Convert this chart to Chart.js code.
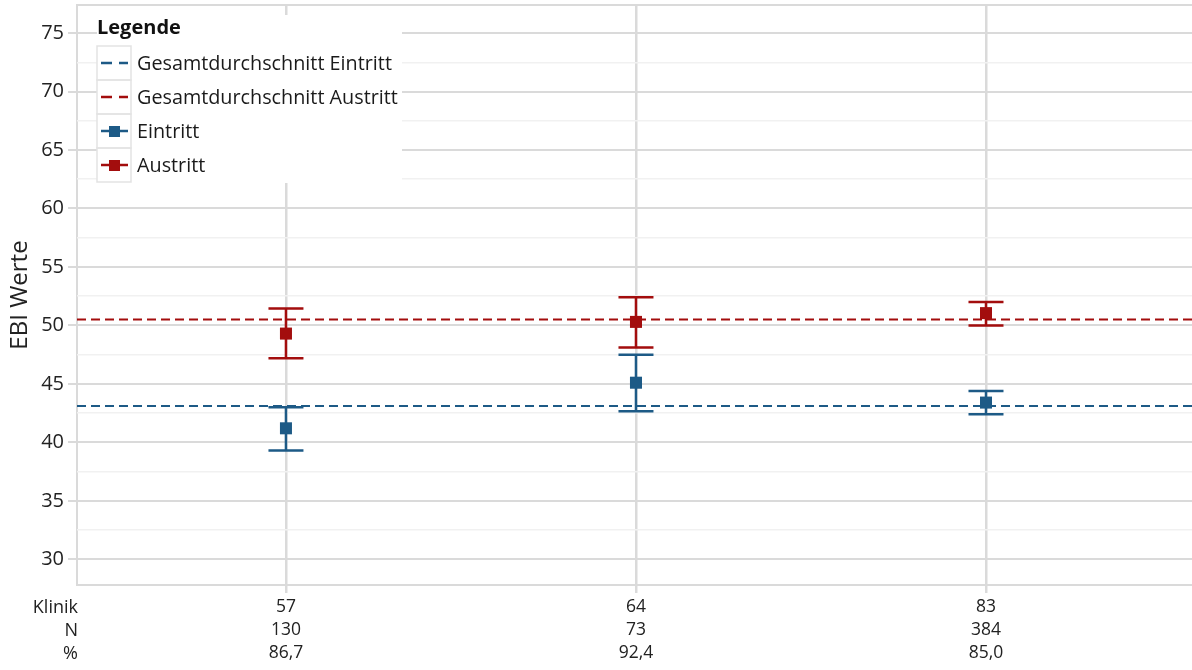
<!DOCTYPE html>
<html lang="de">
<head>
<meta charset="utf-8">
<title>EBI Werte je Klinik</title>
<script src="https://cdn.jsdelivr.net/npm/chart.js@4.4.1/dist/chart.umd.min.js"></script>
<style>
  html, body { margin: 0; padding: 0; background: #ffffff; overflow: hidden; }
  #wrap { width: 1192px; height: 670px; overflow: hidden; }
  canvas { display: block; }
</style>
</head>
<body>
<div id="wrap"><canvas id="chart" width="1200" height="670"></canvas></div>
<script>
// Kliniken mit Fallzahl und Anteil
const kliniken = ['57', '64', '83'];
const fallzahlN = ['130', '73', '384'];
const anteilProzent = ['86,7', '92,4', '85,0'];

// EBI-Mittelwerte mit Konfidenzintervall
const eintrittMittel = [41.2, 45.1, 43.4];
const eintrittUnten  = [39.3, 42.65, 42.4];
const eintrittOben   = [43.0, 47.5, 44.4];
const austrittMittel = [49.3, 50.3, 51.05];
const austrittUnten  = [47.2, 48.1, 50.0];
const austrittOben   = [51.45, 52.4, 52.0];

// Gesamtdurchschnitt über alle Kliniken
const gesamtEintritt = 43.1;
const gesamtAustritt = 50.5;

// Achsenbeschriftung
const zeilenTitel = ['Klinik', 'N', '%'];
const yTickWerte = [30, 32.5, 35, 37.5, 40, 42.5, 45, 47.5, 50, 52.5, 55, 57.5, 60, 62.5, 65, 67.5, 70, 72.5, 75];
const legendeTitel = 'Legende';

const BLAU = '#1d5a86';
const ROT = '#a30d0d';
const GRID = '#dadada';
const GRID_FEIN = '#f1f1f1';
const FONT = "'Open Sans', 'Noto Sans', sans-serif";
const X_MIN = -0.597, X_MAX = 2.6;
const X_LINE_H = 23, X_TICK_LEN = 8, X_TICK_PAD = 3;

const punkte = (werte) => werte.map((v, i) => ({ x: i, y: v }));

// Fehlerbalken (Konfidenzintervalle) über die Skalen zeichnen
const fehlerbalken = {
  id: 'fehlerbalken',
  beforeDatasetsDraw(chart) {
    const { ctx, scales: { x, y } } = chart;
    const reihen = [
      { unten: austrittUnten, oben: austrittOben, farbe: ROT },
      { unten: eintrittUnten, oben: eintrittOben, farbe: BLAU }
    ];
    ctx.save();
    ctx.lineWidth = 2.5;
    for (const r of reihen) {
      ctx.strokeStyle = r.farbe;
      r.unten.forEach((u, i) => {
        const px = x.getPixelForValue(i);
        const pu = y.getPixelForValue(u);
        const po = y.getPixelForValue(r.oben[i]);
        ctx.beginPath();
        ctx.moveTo(px, pu); ctx.lineTo(px, po);
        ctx.moveTo(px - 17.5, pu); ctx.lineTo(px + 17.5, pu);
        ctx.moveTo(px - 17.5, po); ctx.lineTo(px + 17.5, po);
        ctx.stroke();
      });
    }
    ctx.restore();
  }
};

// Rahmen des Plotbereichs und Zeilentitel unter der x-Achse
const rahmen = {
  id: 'rahmen',
  beforeDraw(chart) {
    const { ctx, chartArea: a, scales: { x } } = chart;
    ctx.save();
    ctx.strokeStyle = GRID;
    ctx.lineWidth = 2;
    ctx.beginPath();
    ctx.moveTo(a.right + 12, a.top); ctx.lineTo(a.left, a.top);
    ctx.lineTo(a.left, a.bottom); ctx.lineTo(a.right + 12, a.bottom);
    ctx.stroke();
    ctx.fillStyle = '#222';
    ctx.font = '18px ' + FONT;
    ctx.textAlign = 'right';
    ctx.textBaseline = 'middle';
    zeilenTitel.forEach((t, i) => {
      ctx.fillText(t, a.left + 1, x.top + X_TICK_LEN + X_TICK_PAD + X_LINE_H * (i + 0.5));
    });
    ctx.restore();
  }
};

// Legende oben links im Plotbereich
const legende = {
  id: 'legende',
  afterDraw(chart) {
    const { ctx } = chart;
    const eintraege = [
      { text: chart.data.datasets[2].label, farbe: BLAU, gestrichelt: true },
      { text: chart.data.datasets[3].label, farbe: ROT, gestrichelt: true },
      { text: chart.data.datasets[0].label, farbe: BLAU, gestrichelt: false },
      { text: chart.data.datasets[1].label, farbe: ROT, gestrichelt: false }
    ];
    const x0 = 97, y0 = 15, breite = 305, hoehe = 168;
    const zelleX = 97, zelleB = 34, zelleY = 46, zelleH = 34;
    ctx.save();
    ctx.fillStyle = '#ffffff';
    ctx.fillRect(x0, y0, breite, hoehe);
    ctx.fillStyle = '#111';
    ctx.font = 'bold 20px ' + FONT;
    ctx.textAlign = 'left';
    ctx.textBaseline = 'middle';
    ctx.fillText(legendeTitel, 97, 28);
    eintraege.forEach((e, i) => {
      const top = zelleY + i * zelleH;
      const cy = top + zelleH / 2;
      ctx.strokeStyle = '#e3e3e3';
      ctx.lineWidth = 1.5;
      ctx.strokeRect(zelleX, top, zelleB, zelleH);
      ctx.strokeStyle = e.farbe;
      ctx.lineWidth = 2.5;
      ctx.beginPath();
      if (e.gestrichelt) {
        ctx.moveTo(101, cy); ctx.lineTo(112, cy);
        ctx.moveTo(119, cy); ctx.lineTo(128, cy);
      } else {
        ctx.moveTo(101, cy); ctx.lineTo(128, cy);
      }
      ctx.stroke();
      if (!e.gestrichelt) {
        ctx.fillStyle = e.farbe;
        ctx.fillRect(109, cy - 5, 11, 11);
      }
      ctx.fillStyle = '#1a1a1a';
      ctx.font = '19.8px ' + FONT;
      ctx.fillText(e.text, 137, cy + 1);
    });
    ctx.restore();
  }
};

new Chart(document.getElementById('chart'), {
  type: 'scatter',
  data: {
    datasets: [
      {
        label: 'Eintritt',
        data: punkte(eintrittMittel),
        backgroundColor: BLAU, borderColor: BLAU,
        pointStyle: 'rect', pointRadius: 8.5, pointBorderWidth: 0,
        order: 1
      },
      {
        label: 'Austritt',
        data: punkte(austrittMittel),
        backgroundColor: ROT, borderColor: ROT,
        pointStyle: 'rect', pointRadius: 8.5, pointBorderWidth: 0,
        order: 1
      },
      {
        label: 'Gesamtdurchschnitt Eintritt',
        type: 'line',
        data: [{ x: X_MIN, y: gesamtEintritt }, { x: X_MAX, y: gesamtEintritt }],
        borderColor: BLAU, borderWidth: 2, borderDash: [9, 5],
        pointRadius: 0, fill: false,
        order: 3
      },
      {
        label: 'Gesamtdurchschnitt Austritt',
        type: 'line',
        data: [{ x: X_MIN, y: gesamtAustritt }, { x: X_MAX, y: gesamtAustritt }],
        borderColor: ROT, borderWidth: 2, borderDash: [9, 5],
        pointRadius: 0, fill: false,
        order: 3
      }
    ]
  },
  options: {
    responsive: false,
    animation: false,
    devicePixelRatio: 1,
    layout: { autoPadding: false, padding: { top: 5, left: 0, right: 4, bottom: 0 } },
    plugins: {
      legend: { display: false },
      tooltip: { enabled: false }
    },
    scales: {
      x: {
        type: 'linear',
        min: X_MIN, max: X_MAX,
        afterBuildTicks: (s) => { s.ticks = kliniken.map((k, i) => ({ value: i })); },
        afterFit: (s) => { s.height = 85; s.paddingLeft = 0; s.paddingRight = 0; },
        border: { display: false },
        grid: { color: GRID, lineWidth: 2.5, tickLength: X_TICK_LEN, tickColor: GRID },
        ticks: {
          autoSkip: false,
          maxRotation: 0,
          padding: X_TICK_PAD,
          color: '#222',
          font: { family: FONT, size: 17.5, lineHeight: X_LINE_H / 17.5 },
          callback: (v) => [kliniken[v], fallzahlN[v], anteilProzent[v]]
        }
      },
      y: {
        min: 27.8, max: 77.4,
        afterBuildTicks: (s) => { s.ticks = yTickWerte.map(v => ({ value: v })); },
        afterFit: (s) => { s.width = 77; s.paddingTop = 0; s.paddingBottom = 0; },
        border: { display: false },
        grid: {
          color: (c) => (c.tick && c.tick.value % 5 === 0) ? GRID : GRID_FEIN,
          lineWidth: (c) => (c.tick && c.tick.value % 5 === 0) ? 2 : 1.5,
          tickColor: (c) => (c.tick && c.tick.value % 5 === 0) ? GRID : 'rgba(0,0,0,0)',
          tickLength: 9
        },
        ticks: {
          autoSkip: false,
          padding: 4,
          color: '#222',
          font: { family: FONT, size: 20 },
          callback: (v) => (v % 5 === 0 ? String(v) : '')
        },
        title: {
          display: true,
          text: 'EBI Werte',
          color: '#222',
          font: { family: FONT, size: 24 },
          padding: { top: 6, bottom: 0 }
        }
      }
    }
  },
  plugins: [rahmen, fehlerbalken, legende]
});
</script>
</body>
</html>
